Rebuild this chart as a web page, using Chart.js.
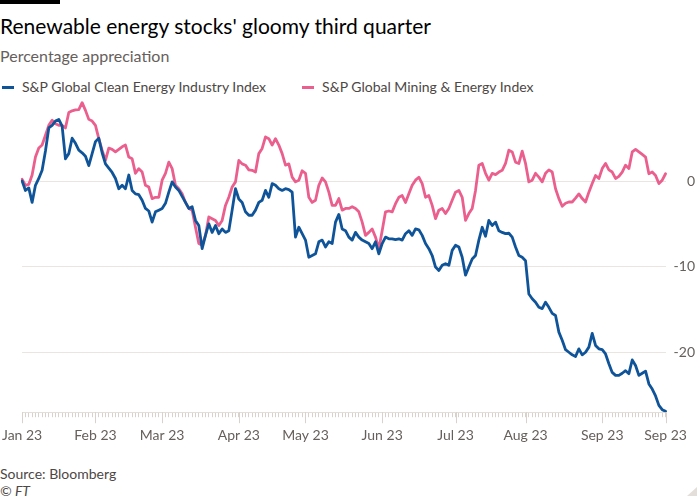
<!DOCTYPE html>
<html>
<head>
<meta charset="utf-8">
<title>Renewable energy stocks' gloomy third quarter</title>
<script src="https://cdn.jsdelivr.net/npm/chart.js@4.4.1/dist/chart.umd.min.js"></script>
<style>
  body { margin: 0; background: #fff; font-family: Lato, "Noto Sans", sans-serif; }
  #wrap { position: relative; width: 700px; height: 500px; overflow: hidden; }
  .bar { position: absolute; left: 0; top: 0; width: 60px; height: 4px; background: #000; }
  h1 { position: absolute; left: 0; top: 13px; margin: 0; font-weight: 400; font-size: 21px; line-height: 26px; color: #000; }
  .sub { position: absolute; left: 0; top: 46px; font-size: 16px; line-height: 20px; color: #66605c; }
  #legend { position: absolute; left: 2px; top: 78px; display: flex; font-size: 14px; line-height: 18px; color: #4d4845; }
  #legend .item { display: flex; align-items: center; margin-right: 36px; }
  #legend .dash { width: 12px; height: 3px; margin-right: 8px; }
  #chartBox { position: absolute; left: -8px; top: 83px; width: 708px; height: 371px; }
  .source { position: absolute; left: 0; top: 465px; font-size: 14px; line-height: 18px; color: #4d4845; }
  .ft { position: absolute; left: 0; top: 482px; font-size: 14px; line-height: 18px; color: #4d4845; font-style: italic; }
  .corner { position: absolute; right: 3px; bottom: 4px; width: 0; height: 0;
            border-left: 10px solid transparent; border-bottom: 9px solid #e3ded9; }
</style>
</head>
<body>
<div id="wrap">
  <div class="bar"></div>
  <h1>Renewable energy stocks' gloomy third quarter</h1>
  <div class="sub">Percentage appreciation</div>
  <div id="legend"></div>
  <div id="chartBox"><canvas id="chart"></canvas></div>
  <div class="source">Source: Bloomberg</div>
  <div class="ft">© FT</div>
  <div class="corner"></div>
</div>
<script>
// series names and colours
const seriesNames = ["S&P Global Clean Energy Industry Index", "S&P Global Mining & Energy Index"];
const seriesColors = ["#0f5499", "#eb5f8e"];

// x axis: every weekday from 2 Jan to 28 Sep 2023
const startDate = "2023-01-02";
const endDate = "2023-09-28";
const tickDates = ["2023-01-02", "2023-02-01", "2023-03-01", "2023-04-03", "2023-05-01",
                   "2023-06-01", "2023-07-03", "2023-08-01", "2023-09-01", "2023-09-28"];
const tickLabels = ["Jan 23", "Feb 23", "Mar 23", "Apr 23", "May 23",
                    "Jun 23", "Jul 23", "Aug 23", "Sep 23", "Sep 23"];

// % appreciation
const cleanEnergy = [
  0, -1.1, -0.8, -2.5, -0.5, 0.3, 1.25, 3.5, 6.2, 6.5,
  7.0, 7.2, 6.4, 2.6, 3.2, 5.0, 4.4, 3.6, 3.3, 2.9,
  1.8, 3.2, 4.6, 5.0, 3.3, 2.0, 1.5, 1.0, 0.3, -0.9,
  -0.5, -0.9, 0.7, -1.1, -1.5, -1.6, -2.25, -3.2, -3.5, -4.8,
  -3.6, -3.4, -3.2, -2.6, -1.3, -0.1, -0.7, -1.1, -1.8, -2.5,
  -3.2, -3.0, -4.6, -5.2, -7.9, -6.35, -5.0, -6.0, -5.2, -6.15,
  -5.6, -6.0, -5.8, -3.4, -0.9, -2.1, -2.5, -3.6, -4.0, -4.0,
  -3.4, -2.5, -2.25, -1.1, -1.9, -0.3, -0.5, -0.9, -1.1, -0.9,
  -1.0, -1.3, -6.55, -5.4, -6.15, -6.9, -8.9, -8.7, -8.5, -7.1,
  -6.9, -7.7, -7.1, -7.3, -4.8, -3.9, -5.6, -5.8, -6.55, -6.9,
  -6.0, -6.55, -6.9, -7.1, -7.3, -7.9, -7.1, -8.5, -7.3, -6.55,
  -6.75, -6.75, -6.85, -6.75, -6.9, -6.15, -5.8, -6.35, -5.6, -5.7,
  -6.35, -7.3, -7.9, -8.7, -10.05, -10.45, -9.85, -9.65, -9.85, -8.1,
  -7.5, -7.7, -8.9, -11.0, -10.05, -9.1, -8.7, -6.9, -5.4, -6.45,
  -4.6, -5.2, -4.8, -5.8, -6.0, -6.15, -6.1, -6.55, -7.7, -8.7,
  -8.9, -9.3, -13.2, -13.75, -14.15, -14.75, -14.9, -14.15, -14.75, -15.45,
  -15.7, -17.65, -18.6, -19.7, -20.0, -20.3, -20.5, -19.6, -20.3, -20.0,
  -19.4, -17.8, -19.2, -19.6, -19.7, -20.2, -21.35, -22.35, -22.7, -22.7,
  -22.45, -22.15, -22.5, -20.9, -21.55, -22.7, -22.45, -22.2, -23.7, -24.3,
  -25.1, -26.2, -26.7, -26.9
];
const miningEnergy = [
  0.2, -0.5, -0.4, 0.7, 2.8, 3.85, 4.2, 5.35, 6.5, 7.1,
  6.7, 6.5, 6.5, 6.2, 8.0, 8.2, 8.3, 8.35, 9.15, 8.25,
  7.2, 7.0, 6.5, 4.95, 3.6, 2.4, 3.85, 3.7, 3.4, 3.7,
  4.0, 4.2, 2.8, 2.6, 0.9, 1.45, 1.05, -0.5, -0.7, -2.05,
  -1.9, -1.9, 0.1, 0.9, 2.2, 1.45, -0.5, -0.9, -1.5, -2.5,
  -3.2, -3.4, -5.4, -7.3, -7.5, -6.35, -4.2, -4.4, -4.6, -5.2,
  -4.6, -2.85, -1.9, -0.7, -0.1, 2.4, 2.0, 1.85, 1.3, 1.25,
  1.05, 3.2, 3.8, 5.15, 4.95, 4.2, 4.95, 4.2, 3.2, 1.85,
  2.0, 0.45, -0.1, 0.1, 1.2, 0.9, -1.9, -2.5, -2.25, -0.5,
  0.35, -0.1, -1.3, -2.85, -2.85, -2.05, -3.4, -3.2, -3.2, -3.0,
  -3.2, -3.6, -4.8, -6.35, -6.0, -5.6, -6.55, -7.9, -5.8, -3.6,
  -3.5, -3.6, -2.65, -1.9, -1.7, -2.5, -1.5, -0.5, 0.1, 0.45,
  -0.3, -1.9, -1.7, -2.85, -4.4, -3.4, -3.2, -3.8, -3.2, -2.25,
  -1.3, -1.1, -1.9, -4.6, -3.8, -3.2, -1.1, 1.85, 2.05, 0.9,
  0.1, 0.9, 0.75, 1.05, 1.25, 2.05, 3.6, 3.4, 2.2, 2.05,
  3.5, 2.05, -0.1, 0.1, 0.9, 0.45, -0.1, 0.9, 1.3, 1.05,
  -0.9, -2.05, -2.95, -2.6, -2.45, -2.45, -2.0, -1.5, -2.05, -2.45,
  -1.3, -0.3, 0.65, 0.3, 1.45, 2.05, 1.3, 1.05, 0.3, 0.55,
  1.05, 1.85, 1.45, 3.4, 3.7, 3.4, 3.1, 2.8, 0.85, 1.05,
  0.65, -0.3, 0.1, 0.85
];

const yTicks = [0, -10, -20];

// build the list of weekdays
const dates = [];
for (let d = new Date(startDate + "T00:00:00Z"); d <= new Date(endDate + "T00:00:00Z"); d.setUTCDate(d.getUTCDate() + 1)) {
  const day = d.getUTCDay();
  if (day !== 0 && day !== 6) dates.push(d.toISOString().slice(0, 10));
}

// -----------------------------
// Legend (html)
// -----------------------------
const legendEl = document.getElementById("legend");
seriesNames.forEach((name, i) => {
  const item = document.createElement("div");
  item.className = "item";
  item.innerHTML = `<span class="dash" style="background:${seriesColors[i]}"></span><span></span>`;
  item.lastChild.textContent = name;
  legendEl.appendChild(item);
});

// longer tick marks under the month labels
const majorTicks = {
  id: "majorTicks",
  afterDraw(chart) {
    const x = chart.scales.x;
    const ctx = chart.ctx;
    const bottom = chart.chartArea.bottom;
    ctx.save();
    ctx.strokeStyle = "#d9d2cc";
    ctx.lineWidth = 1;
    tickDates.forEach(td => {
      const i = dates.indexOf(td);
      if (i < 0) return;
      const px = Math.round(x.getPixelForValue(i)) + 0.5;
      ctx.beginPath();
      ctx.moveTo(px, bottom);
      ctx.lineTo(px, bottom + 11);
      ctx.stroke();
    });
    ctx.restore();
  }
};

const ctx = document.getElementById("chart").getContext("2d");
new Chart(ctx, {
  type: "line",
  data: {
    labels: dates,
    datasets: [
      { label: seriesNames[0], data: cleanEnergy, borderColor: seriesColors[0], backgroundColor: seriesColors[0] },
      { label: seriesNames[1], data: miningEnergy, borderColor: seriesColors[1], backgroundColor: seriesColors[1] }
    ]
  },
  options: {
    responsive: true,
    maintainAspectRatio: false,
    animation: false,
    layout: { padding: { left: 0, right: 5, top: 0, bottom: 0 } },
    elements: {
      line: { borderWidth: 2.8, tension: 0, borderJoinStyle: "round", borderCapStyle: "round" },
      point: { radius: 0 }
    },
    plugins: {
      legend: { display: false },
      tooltip: { enabled: false }
    },
    scales: {
      x: {
        type: "category",
        grid: { drawOnChartArea: false, tickLength: 5, tickColor: "#d9d2cc" },
        border: { display: true, color: "#e4ded8" },
        ticks: {
          autoSkip: false,
          maxRotation: 0,
          padding: 10,
          color: "#66605c",
          font: { family: "Lato", size: 14 },
          callback: (v, i) => {
            const k = tickDates.indexOf(dates[i]);
            return k >= 0 ? tickLabels[k] : "";
          }
        }
      },
      y: {
        position: "right",
        min: -27,
        max: 10,
        afterBuildTicks: s => { s.ticks = yTicks.map(v => ({ value: v })); },
        grid: { color: "#ebe5df", drawTicks: false },
        border: { display: false },
        ticks: {
          padding: 4,
          crossAlign: "far",
          color: "#66605c",
          font: { family: "Lato", size: 14 }
        }
      }
    }
  },
  plugins: [majorTicks]
});
</script>
</body>
</html>
